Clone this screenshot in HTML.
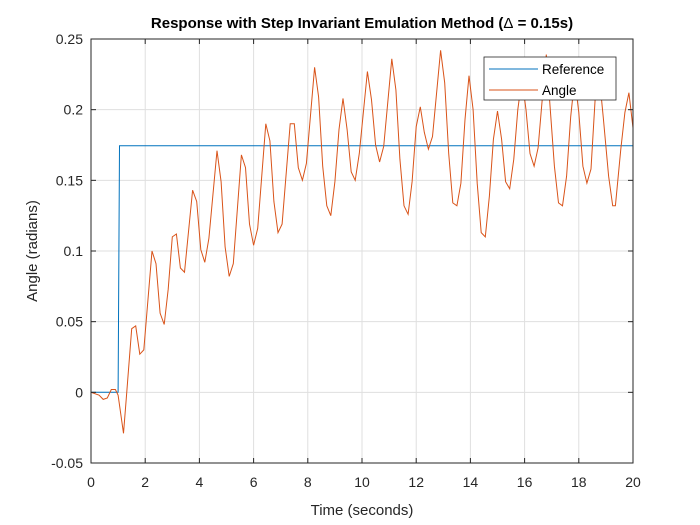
<!DOCTYPE html>
<html><head><meta charset="utf-8"><style>
body{margin:0;background:#fff;}
svg{display:block;font-family:"Liberation Sans",Arial,sans-serif;}
</style></head><body>
<svg id="chart" width="700" height="525">
<rect width="700" height="525" fill="#fff"/>
<g id="grid"></g>
<g id="series"></g>
<g id="axes"></g>
<text x="362" y="28" text-anchor="middle" font-size="15" font-weight="bold" fill="#000">Response with Step Invariant Emulation Method (<tspan font-weight="normal">Δ</tspan> = 0.15s)</text>
<text x="362" y="515" text-anchor="middle" font-size="15" fill="#262626">Time (seconds)</text>
<text transform="translate(37,251) rotate(-90)" text-anchor="middle" font-size="15" fill="#262626">Angle (radians)</text>
<g>
<rect x="484" y="57" width="132" height="43" fill="#fff" stroke="#262626" stroke-width="0.8"/>
<line x1="489" y1="69" x2="538" y2="69" stroke="#0072BD" stroke-width="1"/>
<text x="542" y="74" font-size="13.5" fill="#000">Reference</text>
<line x1="489" y1="90" x2="538" y2="90" stroke="#D95319" stroke-width="1"/>
<text x="542" y="95" font-size="13.5" fill="#000">Angle</text>
</g>
</svg>
<script>
const xTicks=[0,2,4,6,8,10,12,14,16,18,20];
const yTicks=[-0.05,0,0.05,0.1,0.15,0.2,0.25];
const yTickLabels=["-0.05","0","0.05","0.1","0.15","0.2","0.25"];
const refT=[0,1.0,1.05,20];
const refV=[0,0,0.1745,0.1745];
const angleT=[0,0.3,0.45,0.6,0.75,0.9,1.0,1.2,1.3,1.5,1.65,1.8,1.95,2.25,2.4,2.55,2.7,2.85,3.0,3.15,3.3,3.45,3.75,3.9,4.05,4.2,4.35,4.65,4.8,4.95,5.1,5.25,5.55,5.7,5.85,6.0,6.15,6.45,6.6,6.75,6.9,7.05,7.35,7.5,7.65,7.8,7.95,8.25,8.4,8.55,8.7,8.85,9.0,9.15,9.3,9.45,9.6,9.75,9.9,10.2,10.35,10.5,10.65,10.8,11.1,11.25,11.4,11.55,11.7,11.85,12.0,12.15,12.3,12.45,12.6,12.9,13.05,13.2,13.35,13.5,13.65,13.8,13.95,14.1,14.25,14.4,14.55,14.7,14.85,15.0,15.15,15.3,15.45,15.6,15.75,15.9,16.05,16.2,16.35,16.5,16.65,16.8,16.95,17.1,17.25,17.4,17.55,17.7,17.85,18.0,18.15,18.3,18.45,18.6,18.75,18.9,19.1,19.25,19.35,19.55,19.7,19.85,20];
const angleV=[0,-0.002,-0.005,-0.004,0.002,0.002,-0.002,-0.029,-0.005,0.045,0.047,0.027,0.030,0.100,0.091,0.056,0.048,0.073,0.110,0.112,0.088,0.085,0.143,0.135,0.101,0.092,0.109,0.171,0.149,0.103,0.082,0.091,0.168,0.159,0.119,0.104,0.116,0.190,0.178,0.135,0.113,0.119,0.190,0.190,0.159,0.150,0.162,0.230,0.209,0.160,0.132,0.125,0.149,0.186,0.208,0.186,0.156,0.150,0.169,0.227,0.207,0.175,0.163,0.174,0.236,0.214,0.165,0.132,0.126,0.149,0.188,0.202,0.184,0.172,0.181,0.242,0.219,0.169,0.134,0.132,0.148,0.193,0.224,0.200,0.148,0.113,0.110,0.139,0.179,0.199,0.179,0.149,0.144,0.165,0.200,0.222,0.200,0.169,0.160,0.173,0.207,0.239,0.200,0.160,0.134,0.132,0.153,0.195,0.222,0.198,0.160,0.148,0.158,0.207,0.225,0.195,0.153,0.132,0.132,0.172,0.198,0.212,0.187];
const X0=91,X1=633,Y0=463,Y1=39,xMin=0,xMax=20,yMin=-0.05,yMax=0.25;
function xs(t){return X0+(t-xMin)/(xMax-xMin)*(X1-X0);}
function ys(v){return Y0-(v-yMin)/(yMax-yMin)*(Y0-Y1);}
const NS="http://www.w3.org/2000/svg";
function mk(tag,attrs,parent){const e=document.createElementNS(NS,tag);for(const k in attrs)e.setAttribute(k,attrs[k]);parent.appendChild(e);return e;}
const grid=document.getElementById('grid'),axes=document.getElementById('axes'),series=document.getElementById('series');
mk('rect',{x:X0,y:Y1,width:X1-X0,height:Y0-Y1,fill:'#fff'},grid);
xTicks.forEach(t=>{const x=xs(t);
 const g=mk('line',{x1:x,x2:x,y1:Y1,y2:Y0,stroke:'#dfdfdf','stroke-width':1},grid);
 
 
 mk('line',{x1:x,x2:x,y1:Y0,y2:Y0-5,stroke:'#262626'},axes);
 mk('line',{x1:x,x2:x,y1:Y1,y2:Y1+5,stroke:'#262626'},axes);
 const l=mk('text',{x:x,y:Y0+24,'text-anchor':'middle','font-size':14,fill:'#262626'},axes);
 l.textContent=String(t);
 
 
});
yTicks.forEach((v,i)=>{const y=ys(v);
 const g=mk('line',{x1:X0,x2:X1,y1:y,y2:y,stroke:'#dfdfdf','stroke-width':1},grid);
 
 
 mk('line',{x1:X0,x2:X0+5,y1:y,y2:y,stroke:'#262626'},axes);
 mk('line',{x1:X1,x2:X1-5,y1:y,y2:y,stroke:'#262626'},axes);
 const l=mk('text',{x:X0-8,y:y+5,'text-anchor':'end','font-size':14,fill:'#262626'},axes);
 l.textContent=yTickLabels[i];
 
 
});
const box=mk('rect',{x:X0,y:Y1,width:X1-X0,height:Y0-Y1,fill:'none',stroke:'#262626','stroke-width':1},axes);


function pts(T,V){return T.map((t,i)=>xs(t).toFixed(1)+','+ys(V[i]).toFixed(1)).join(' ');}
const r=mk('polyline',{points:pts(refT,refV),fill:'none',stroke:'#0072BD','stroke-width':1},series);


const a=mk('polyline',{points:pts(angleT,angleV),fill:'none',stroke:'#D95319','stroke-width':1},series);


</script>
</body></html>
